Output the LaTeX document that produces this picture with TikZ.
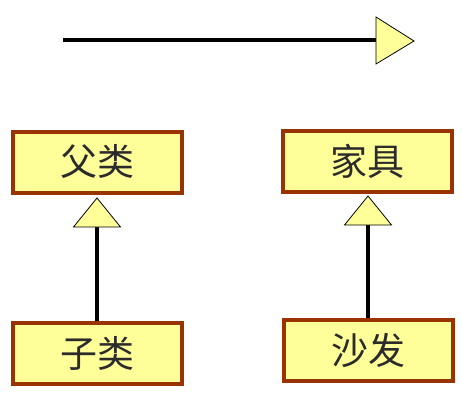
\documentclass[tikz,border=0pt]{standalone}
\usepackage{fontspec}
\newfontfamily\cjk{Noto Sans CJK SC}
\definecolor{boxfill}{HTML}{FFFF99}
\definecolor{boxline}{HTML}{993300}
\definecolor{txt}{HTML}{2B2B2B}
\begin{document}
\begin{tikzpicture}[x=1pt,y=-1pt,
  classbox/.style={draw=boxline,line width=4pt,fill=boxfill,minimum width=169pt,minimum height=61pt,inner sep=0pt,font=\cjk\fontsize{37}{37}\selectfont,text=txt},
  tri/.style={draw=black,line width=0.8pt,fill=boxfill,line join=miter},
  conn/.style={line width=4pt,black}]
\useasboundingbox (0,0) rectangle (462,402);
% top arrow
\coordinate (arrStart) at (63,40);
\coordinate (arrEnd) at (376,40);
\draw[conn] (arrStart) -- (arrEnd);
\draw[tri] (376,17) -- (414,41) -- (376,64) -- cycle;
% boxes
\node[classbox] (parent) at (97,162) {父类};
\node[classbox] (child) at (97,353) {子类};
\node[classbox] (furn) at (367,161.5) {家具};
\node[classbox] (sofa) at (368,350.5) {沙发};
% left inheritance
\coordinate (triL) at (97,227);
\draw[conn] (child.north) -- (triL);
\draw[tri] (73.5,227) -- (97,198) -- (120.5,227) -- cycle;
% right inheritance
\coordinate (triR) at (368,225);
\draw[conn] (sofa.north) -- (triR);
\draw[tri] (344.5,225) -- (368,196) -- (391.5,225) -- cycle;
\end{tikzpicture}
\end{document}
